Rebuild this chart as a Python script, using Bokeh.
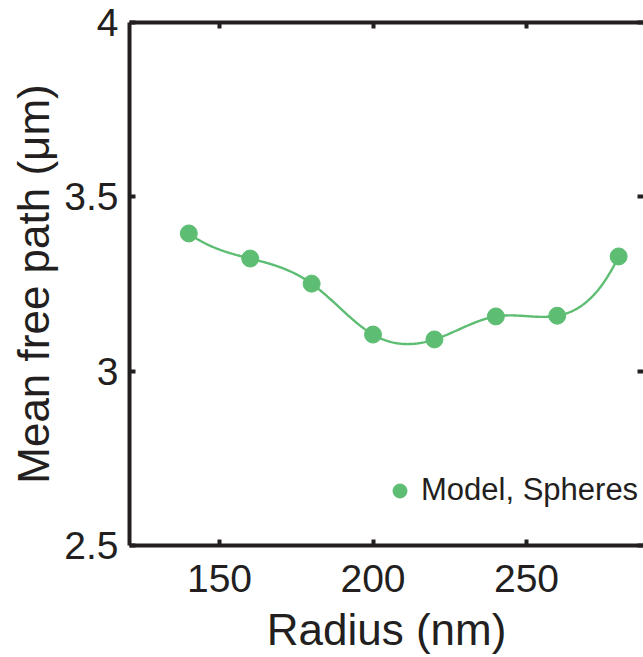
import numpy as np
from bokeh.plotting import figure
from bokeh.models import Range1d, LinearAxis, FixedTicker, Legend, LegendItem
from bokeh.embed import file_html
from bokeh.resources import INLINE

# ---- data ----
radius = [140, 160, 180, 200, 220, 240, 260, 280]
mean_free_path = [3.395, 3.323, 3.251, 3.105, 3.091, 3.157, 3.159, 3.329]
x_ticks = [150, 200, 250]
y_ticks = [2.5, 3, 3.5, 4]
y_tick_labels = ["2.5", "3", "3.5", "4"]
series_name = "Model, Spheres"
x_label = "Radius (nm)"
y_label = "Mean free path (\u03bcm)"

GREEN = "#5dbd73"
INK = "#231f20"
FONT = "Liberation Sans"


def not_a_knot_spline(xs, ys, n_out=400):
    """Piecewise cubic (not-a-knot) through the given points, for drawing a smooth line."""
    xs = np.asarray(xs, float)
    ys = np.asarray(ys, float)
    n = len(xs)
    m = n - 1
    h = np.diff(xs)
    A = np.zeros((4 * m, 4 * m))
    b = np.zeros(4 * m)
    r = 0
    for i in range(m):
        A[r, 4 * i] = 1
        b[r] = ys[i]
        r += 1
        A[r, 4 * i:4 * i + 4] = [1, h[i], h[i] ** 2, h[i] ** 3]
        b[r] = ys[i + 1]
        r += 1
    for i in range(m - 1):
        A[r, 4 * i:4 * i + 4] = [0, 1, 2 * h[i], 3 * h[i] ** 2]
        A[r, 4 * (i + 1) + 1] = -1
        r += 1
        A[r, 4 * i:4 * i + 4] = [0, 0, 2, 6 * h[i]]
        A[r, 4 * (i + 1) + 2] = -2
        r += 1
    A[r, 3] = 1
    A[r, 7] = -1
    r += 1
    A[r, 4 * (m - 2) + 3] = 1
    A[r, 4 * (m - 1) + 3] = -1
    coef = np.linalg.solve(A, b).reshape(m, 4)
    xx = np.linspace(xs[0], xs[-1], n_out)
    idx = np.clip(np.searchsorted(xs, xx, side="right") - 1, 0, m - 1)
    t = xx - xs[idx]
    c = coef[idx]
    yy = c[:, 0] + c[:, 1] * t + c[:, 2] * t ** 2 + c[:, 3] * t ** 3
    return xx, yy


W, H = 643, 657
x_start, x_end = 120.68, 288.1

p = figure(width=W, height=H, output_backend="svg", toolbar_location=None,
           x_range=Range1d(x_start, x_end), y_range=Range1d(2.5, 4),
           min_border_left=129, min_border_right=0, min_border_top=22,
           min_border_bottom=112)
p.background_fill_color = "white"
p.border_fill_color = "white"
p.outline_line_color = None
p.grid.visible = False

sx, sy = not_a_knot_spline(radius, mean_free_path)
p.line(sx, sy, line_color=GREEN, line_width=2.4)
pts = p.scatter(radius, mean_free_path, size=17, fill_color=GREEN, line_color=GREEN)

# main axes
xa = p.xaxis[0]
ya = p.yaxis[0]
for ax in (xa, ya):
    ax.axis_line_color = INK
    ax.axis_line_width = 4
    ax.major_tick_line_color = INK
    ax.major_tick_line_width = 4
    ax.major_tick_in = 6
    ax.major_tick_out = 0
    ax.minor_tick_line_color = None
    ax.major_label_text_font = FONT
    ax.major_label_text_color = INK
    ax.major_label_text_font_size = "39px"
    ax.axis_label_text_font = FONT
    ax.axis_label_text_font_style = "normal"
    ax.axis_label_text_color = INK
    ax.axis_label_text_font_size = "44px"

xa.ticker = FixedTicker(ticks=x_ticks)
ya.ticker = FixedTicker(ticks=y_ticks)
ya.major_label_overrides = {t: lab for t, lab in zip(y_ticks, y_tick_labels)}
xa.axis_label = x_label
ya.axis_label = y_label
xa.major_label_standoff = 19
xa.axis_label_standoff = 10
ya.major_label_standoff = 11
ya.axis_label_standoff = 3

# top box edge and right-side ticks (no labels)
top = LinearAxis(ticker=FixedTicker(ticks=x_ticks))
right = LinearAxis(ticker=FixedTicker(ticks=y_ticks))
for ax in (top, right):
    ax.major_label_text_font_size = "0px"
    ax.major_label_text_color = None
    ax.major_label_standoff = 0
    ax.major_tick_line_color = INK
    ax.major_tick_line_width = 4
    ax.major_tick_in = 6
    ax.major_tick_out = 0
    ax.minor_tick_line_color = None
top.axis_line_color = INK
top.axis_line_width = 4
right.axis_line_color = None
p.add_layout(top, "above")
p.add_layout(right, "right")

legend = Legend(items=[LegendItem(label=series_name, renderers=[pts])],
                location=(253, 37), padding=0, margin=0, spacing=0,
                border_line_color=None, background_fill_alpha=0,
                glyph_width=35, glyph_height=35, label_height=35,
                label_standoff=4, label_text_font=FONT,
                label_text_font_size="31px", label_text_color=INK)
p.add_layout(legend, "center")

open("out.html", "w").write(file_html(p, INLINE))
